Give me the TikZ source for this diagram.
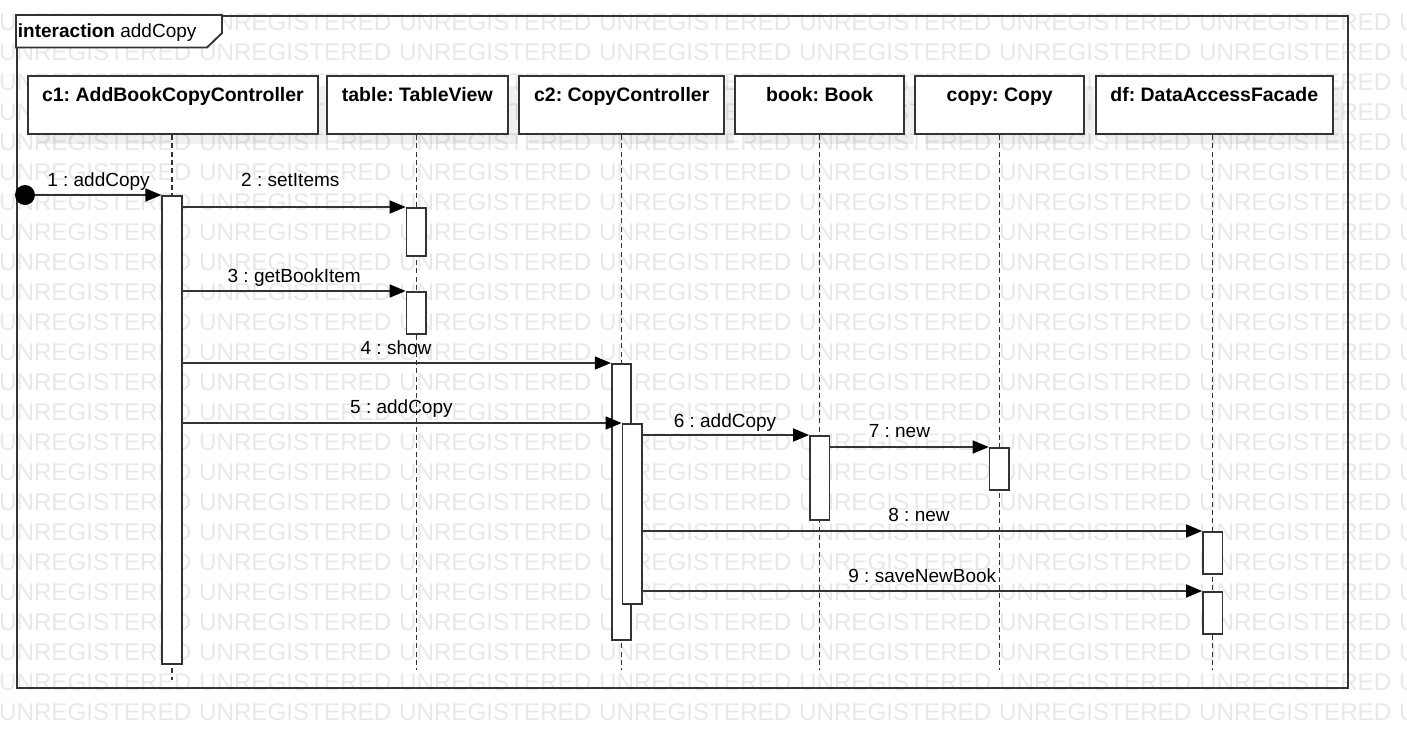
\documentclass[tikz,border=0pt]{standalone}
\usepackage{fontspec}
\setmainfont{Liberation Sans}
\usetikzlibrary{arrows.meta,shadows}
\definecolor{ink}{HTML}{333333}
\definecolor{wmgray}{HTML}{E8E8E8}
\frenchspacing
\begin{document}
\begin{tikzpicture}[x=0.75pt,y=-0.75pt,
  wmtext/.style={anchor=base west,inner sep=0pt,text=wmgray,font=\fontsize{18.15pt}{20pt}\selectfont},
  headbox/.style={draw=ink,line width=1.4pt,fill=white,anchor=north west,inner sep=0pt,minimum height=43.7pt,
    drop shadow={shadow xshift=7.5pt,shadow yshift=-7.5pt,fill=black,opacity=0.06}},
  headtext/.style={anchor=base,inner sep=0pt,font=\bfseries\fontsize{14.6pt}{17pt}\selectfont},
  actbar/.style={draw=ink,line width=1.3pt,fill=white,anchor=north,inner sep=0pt,minimum width=14.6pt},
  lifeline/.style={draw=ink,line width=1pt,dash pattern=on 3.75pt off 2.5pt},
  msg/.style={draw=ink,line width=1.2pt,-{Triangle[length=12pt,width=9.75pt,color=black]}},
  msglabel/.style={anchor=base,inner sep=0pt,font=\fontsize{14.25pt}{17pt}\selectfont},
]
\path[use as bounding box] (0,0) rectangle (1407,747);

% background lettering
\begin{scope}
  \clip (0,0) rectangle (1407,747);
  \foreach \r in {0,...,23}{
    \foreach \c in {0,...,7}{
      \node[wmtext] (wm\r-\c) at ({200*\c-1.2},{30+30*\r}) {UNREGISTERED};
    }
  }
\end{scope}

% interaction frame and its name tab
\node[draw=ink,line width=1.4pt,anchor=north west,inner sep=0pt,
      minimum width=998.25pt,minimum height=504pt] (frame) at (16,15) {};
\draw[ink,line width=1.4pt,fill=white]
  (frame.north west) -- (222,15) -- (222,33) -- (207,47.5) -- (16,47.5) -- cycle;
\node[anchor=base west,inner sep=0pt,font=\fontsize{14.25pt}{17pt}\selectfont]
  (fname) at (17.7,37.3) {\textbf{interaction} addCopy};

% lifeline heads
\node[headbox,minimum width=217.95pt] (c1) at (26.7,75) {};
\node[headbox,minimum width=135.5pt]  (tb) at (326,75) {};
\node[headbox,minimum width=153.75pt] (c2) at (518.3,75) {};
\node[headbox,minimum width=126.75pt] (bk) at (734.3,75) {};
\node[headbox,minimum width=126.75pt] (cp) at (914.3,75) {};
\node[headbox,minimum width=177.5pt]  (df) at (1095,75) {};

\node[headtext] (c1t) at ([yshift=-19.5pt]c1.north) {c1: AddBookCopyController};
\node[headtext] (tbt) at ([yshift=-19.5pt]tb.north) {table: TableView};
\node[headtext] (c2t) at ([yshift=-19.5pt]c2.north) {c2: CopyController};
\node[headtext] (bkt) at ([yshift=-19.5pt]bk.north) {book: Book};
\node[headtext] (cpt) at ([yshift=-19.5pt]cp.north) {copy: Copy};
\node[headtext] (dft) at ([yshift=-19.5pt]df.north) {df: DataAccessFacade};

% lifeline ends
\coordinate (c1end) at (172,680);
\coordinate (tbend) at (416.3,670);
\coordinate (c2end) at (621.5,670);
\coordinate (bkend) at (819.7,670);
\coordinate (cpend) at (999.3,670);
\coordinate (dfend) at (1212.7,670);

\draw[lifeline] (c1.south -| c1end) -- (c1end);
\draw[lifeline] (tb.south -| tbend) -- (tbend);
\draw[lifeline] (c2.south -| c2end) -- (c2end);
\draw[lifeline] (bk.south -| bkend) -- (bkend);
\draw[lifeline] (cp.south -| cpend) -- (cpend);
\draw[lifeline] (df.south -| dfend) -- (dfend);

% activation bars
\node[actbar,minimum height=351pt]  (c1a) at (172,195) {};
\node[actbar,minimum height=36pt]   (t1)  at (416.3,207) {};
\node[actbar,minimum height=31.5pt] (t2)  at (416.3,291) {};
\node[actbar,minimum height=207pt]  (c2a) at (621.5,363) {};
\node[actbar,minimum height=135pt]  (c2b) at (632.2,423) {};
\node[actbar,minimum height=63pt]   (bka) at (819.7,435) {};
\node[actbar,minimum height=31.5pt] (cpa) at (999.3,447) {};
\node[actbar,minimum height=31.5pt] (df1) at (1212.7,531) {};
\node[actbar,minimum height=31.5pt] (df2) at (1212.7,591) {};

% messages
\draw[msg] (25,195) -- (c1a.north west);
\node[circle,fill=black,inner sep=0pt,minimum size=15pt] (start) at (25,195) {};
\draw[msg] (c1a.east |- t1.north west) -- (t1.north west);
\draw[msg] (c1a.east |- t2.north west) -- (t2.north west);
\draw[msg] (c1a.east |- c2a.north west) -- (c2a.north west);
\draw[msg] (c1a.east |- c2b.north west) -- (c2b.north west);
\draw[msg] (c2b.east |- bka.north west) -- (bka.north west);
\draw[msg] (bka.east |- cpa.north west) -- (cpa.north west);
\draw[msg] (c2b.east |- df1.north west) -- (df1.north west);
\draw[msg] (c2b.east |- df2.north west) -- (df2.north west);

% message labels
\node[msglabel] (m1) at (98.5,186)  {1 : addCopy};
\node[msglabel] (m2) at (290.3,186) {2 : setItems};
\node[msglabel] (m3) at (294.2,282) {3 : getBookItem};
\node[msglabel] (m4) at (396,354)   {4 : show};
\node[msglabel] (m5) at (401.4,413.5) {5 : addCopy};
\node[msglabel] (m6) at (725,427)   {6 : addCopy};
\node[msglabel] (m7) at (899.4,437) {7 : new};
\node[msglabel] (m8) at (919,521)   {8 : new};
\node[msglabel] (m9) at (922.3,582) {9 : saveNewBook};
\end{tikzpicture}
\end{document}
